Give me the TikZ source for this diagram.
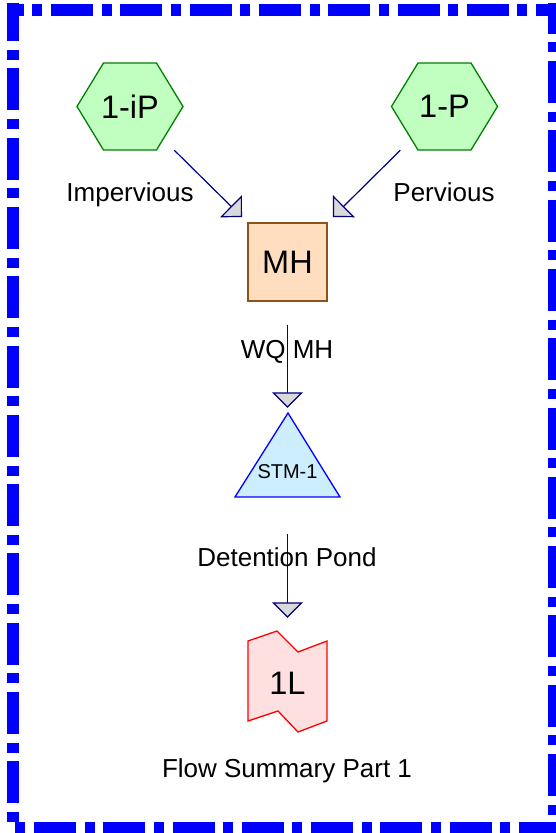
\documentclass[tikz,border=0pt]{standalone}
\usepackage{fontspec}
\setmainfont{Liberation Sans}
\usetikzlibrary{arrows.meta}

\definecolor{framebl}{RGB}{0,0,255}
\definecolor{hexfill}{RGB}{192,255,192}
\definecolor{hexline}{RGB}{0,128,0}
\definecolor{mhfill}{RGB}{255,222,192}
\definecolor{mhline}{RGB}{140,82,24}
\definecolor{trifill}{RGB}{204,238,255}
\definecolor{triline}{RGB}{0,0,255}
\definecolor{pondfill}{RGB}{255,224,224}
\definecolor{pondline}{RGB}{255,0,0}
\definecolor{flowline}{RGB}{0,0,128}
\definecolor{tipfill}{RGB}{217,217,217}

\tikzset{
  frame/.style={draw=framebl, line width=12pt, line cap=butt,
    dash pattern=on 42pt off 8.65pt on 10pt off 8.65pt},
  hexshape/.style={draw=hexline, fill=hexfill, line width=1.3pt},
  trishape/.style={draw=triline, fill=trifill, line width=1.3pt},
  pondshape/.style={draw=pondline, fill=pondfill, line width=1.3pt},
  bigtext/.style={font=\fontsize{32.5}{38}\selectfont, inner sep=0pt},
  mhbox/.style={bigtext, draw=mhline, fill=mhfill, line width=1.3pt,
    minimum width=79pt, minimum height=78pt},
  lbl/.style={font=\fontsize{26}{30}\selectfont, inner sep=0pt, anchor=base},
  flow/.style={draw=flowline, line width=1.2pt,
    -{Triangle[width=31pt, length=15.5pt, fill=tipfill]}},
}

\begin{document}
\begin{tikzpicture}[x=1pt, y=-1pt]
\useasboundingbox (0,0) rectangle (556,833);

% dash-dot outer frame, one stroke per side
\draw[frame, dash phase=25.3pt] (7,9.5) -- (560,9.5);
\draw[frame, dash phase=11.3pt] (554,3) -- (554,840);
\draw[frame, dash phase=1pt] (560,828) -- (13,828);
\draw[frame, dash phase=50.65pt] (13,822) -- (13,3);

% subcatchment hexagons
\draw[hexshape] (77,106.5) -- (103.5,63) -- (156.5,63) -- (183,106.5)
  -- (156.5,150) -- (103.5,150) -- cycle;
\draw[hexshape] (391.5,106.5) -- (418,63) -- (471,63) -- (497.5,106.5)
  -- (471,150) -- (418,150) -- cycle;
\node[bigtext, circle, minimum size=124pt] (impv) at (130,106.5) {1-iP};
\node[bigtext, circle, minimum size=124pt] (perv) at (444.5,106.5) {1-P};

% manhole box
\node[mhbox] (mh) at (287.5,262) {MH};

% storage triangle
\draw[trishape] (288,413) -- (340,497) -- (235,497) -- cycle;
\node[font=\fontsize{20}{24}\selectfont, inner sep=0pt,
  minimum width=105pt, minimum height=118pt] (stm) at (287.5,472) {STM-1};

% pond / link shape
\draw[pondshape] (248,641) -- (277,631) -- (298,652) -- (327,641)
  -- (327,721) -- (298,732) -- (278,711) -- (248,721) -- cycle;
\node[bigtext, minimum width=79pt, minimum height=80pt] (outl) at (287.5,683.5) {1L};

% connectors
\draw[flow, shorten >=7.5pt] (impv) -- (mh);
\draw[flow, shorten >=7.5pt] (perv) -- (mh);
\draw[flow, shorten <=23pt, shorten >=5pt] (mh) -- (stm);
\draw[flow, shorten <=3pt, shorten >=25.5pt] (stm) -- (outl);

% labels
\node[lbl] (limp) at (130,201) {Impervious};
\node[lbl] (lper) at (444,201.5) {Pervious};
\node[lbl] (lwq) at (287,358) {WQ MH};
\node[lbl] (ldet) at (287,566) {Detention Pond};
\node[lbl] (lsum) at (287,777) {Flow Summary Part 1};
\end{tikzpicture}
\end{document}
